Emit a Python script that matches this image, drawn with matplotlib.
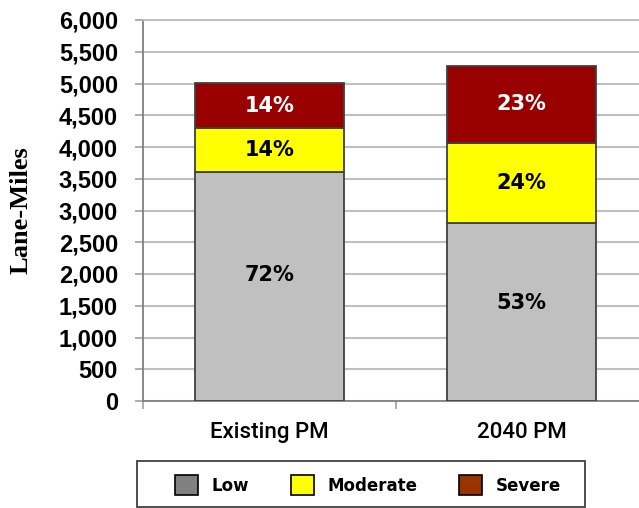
import matplotlib.pyplot as plt
import numpy as np
from matplotlib.patches import Patch, Rectangle

# 数据
periods = ["Existing PM", "2040 PM"]
low = [3600, 2810]
moderate = [700, 1260]
severe = [700, 1210]
pct_low = ["72%", "53%"]
pct_mod = ["14%", "24%"]
pct_sev = ["14%", "23%"]
y_ticks = np.arange(0, 6001, 500)

W, H = 639, 508
fig = plt.figure(figsize=(W / 100, H / 100), dpi=100)
ax = fig.add_axes([143/W, 107/H, 505/W, 381/H])

x = np.arange(len(periods))
w = 0.59
edge = dict(edgecolor="#404040", linewidth=1.3)
ax.bar(x, low, w, color="#C0C0C0", zorder=3, **edge)
ax.bar(x, moderate, w, bottom=low, color="#FFFF00", zorder=3, **edge)
base = np.array(low) + np.array(moderate)
ax.bar(x, severe, w, bottom=base, color="#990000", zorder=3, **edge)

lbl = dict(ha="center", va="center", fontsize=15, fontweight="bold", zorder=4)
for i in range(len(periods)):
    ax.text(x[i], low[i] * 0.55, pct_low[i], color="black", **lbl)
    ax.text(x[i], low[i] + moderate[i] / 2, pct_mod[i], color="black", **lbl)
    ax.text(x[i], base[i] + severe[i] / 2, pct_sev[i], color="white", **lbl)

ax.set_xlim(-0.5, 1.5)
ax.set_ylim(0, 6000)
ax.set_yticks(y_ticks)
ax.set_yticklabels([f"{v:,}" for v in y_ticks], family="Liberation Sans",
                   fontweight="bold", fontsize=17)
ax.yaxis.grid(True, color="#BFBFBF", linewidth=1.5, zorder=0)
ax.tick_params(axis="y", length=6, width=1.2, color="#A0A0A0", pad=12)

# 分类刻度在柱子之间
ax.set_xticks([-0.5, 0.5, 1.5])
ax.set_xticklabels([])
ax.set_xticks(x, minor=True)
ax.set_xticklabels(periods, minor=True, family="Roboto", fontsize=16, fontweight="medium")
ax.tick_params(axis="x", which="major", length=6, width=1.2, color="#A0A0A0")
ax.tick_params(axis="x", which="minor", length=0, pad=15)

for s in ["left", "bottom", "top", "right"]:
    ax.spines[s].set_color("#808080")
    ax.spines[s].set_linewidth(1.3)
ax.spines["top"].set_color("#BFBFBF")

ax.set_ylabel("Lane-Miles", family="Liberation Serif", fontweight="bold",
              fontsize=19, labelpad=19)

# 图例
handles = [Patch(facecolor="#808080", edgecolor="black", linewidth=1.2),
           Patch(facecolor="#FFFF00", edgecolor="black", linewidth=1.2),
           Patch(facecolor="#993300", edgecolor="black", linewidth=1.2)]
fig.legend(handles, ["Low", "Moderate", "Severe"], loc="center",
           bbox_to_anchor=(368/W, 1 - 485/H), ncol=3, frameon=False,
           handlelength=1.4, handleheight=1.4, handletextpad=0.8,
           columnspacing=2.5, prop=dict(weight="bold", size=12))
fig.patches.append(Rectangle((137/W, 1 - 507/H), 448/W, 46/H, transform=fig.transFigure,
                             fill=False, edgecolor="#404040", linewidth=1.3))

plt.savefig("out.png", dpi=100)
